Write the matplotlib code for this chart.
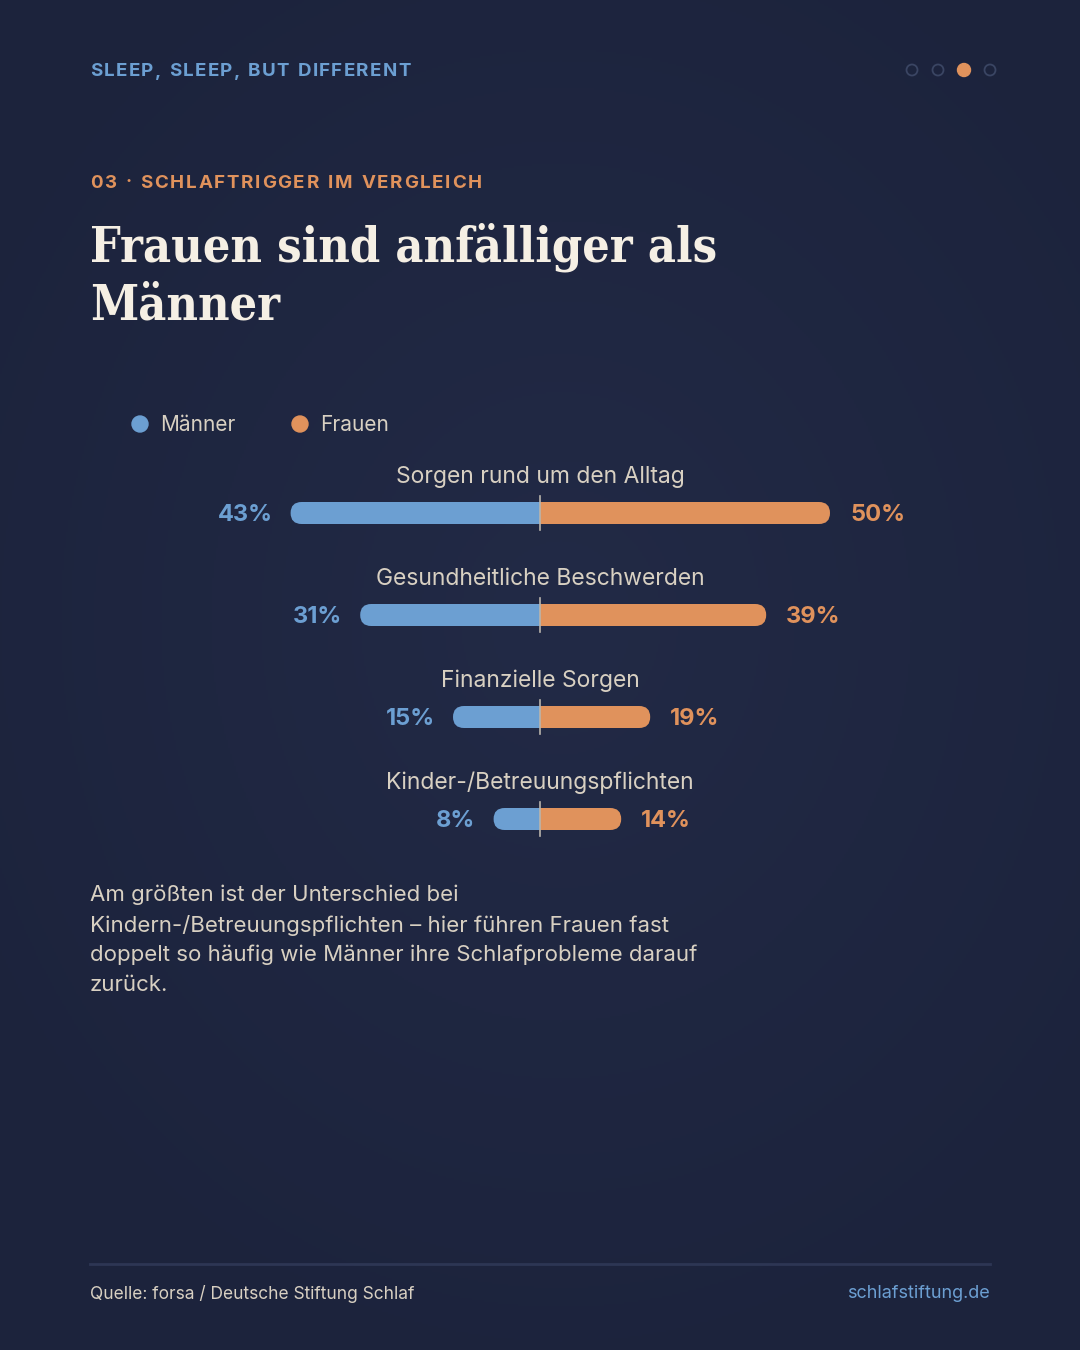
import numpy as np
import matplotlib
matplotlib.use("Agg")
import matplotlib.pyplot as plt
from matplotlib.patches import FancyBboxPatch, Circle

# --- data ---
categories = ["Sorgen rund um den Alltag", "Gesundheitliche Beschwerden",
              "Finanzielle Sorgen", "Kinder-/Betreuungspflichten"]
maenner = [43, 31, 15, 8]
frauen = [50, 39, 19, 14]
series_names = ["Männer", "Frauen"]

kicker = "SLEEP, SLEEP, BUT DIFFERENT"
section = "03 · SCHLAFTRIGGER IM VERGLEICH"
title_lines = ["Frauen sind anfälliger als", "Männer"]
body_lines = ["Am größten ist der Unterschied bei",
              "Kindern-/Betreuungspflichten – hier führen Frauen fast",
              "doppelt so häufig wie Männer ihre Schlafprobleme darauf",
              "zurück."]
source = "Quelle: forsa / Deutsche Stiftung Schlaf"
site = "schlafstiftung.de"

# --- style ---
BLUE = "#6c9fd2"
ORANGE = "#e0925c"
CREAM = "#f5efe4"
BEIGE = "#d8d0c2"
SANS = ["Inter", "DejaVu Sans"]
SERIF = ["DejaVu Serif"]

W, H = 1080, 1350
fig = plt.figure(figsize=(W / 100, H / 100), dpi=100)

# background with a faint radial glow
bg = fig.add_axes([0, 0, 1, 1])
bg.set_xlim(0, W)
bg.set_ylim(H, 0)
bg.axis("off")
yy, xx = np.mgrid[0:H:2, 0:W:2]
r = np.sqrt(((xx - 560) / 700) ** 2 + ((yy - 620) / 800) ** 2)
glow = np.clip(1 - r, 0, 1)
c0 = np.array([0x1c, 0x23, 0x3c]) / 255
c1 = np.array([0x22, 0x2a, 0x46]) / 255
img = c0 + (c1 - c0) * glow[..., None]
bg.imshow(img, extent=(0, W, H, 0), aspect="auto", zorder=0)

renderer = fig.canvas.get_renderer()


def spaced_text(ax, x, y, s, spacing, **kw):
    """draw text char by char with extra letter spacing (px)"""
    for ch in s:
        t = ax.text(x, y, ch, **kw)
        w = t.get_window_extent(renderer).width
        if ch == " ":
            w = t.get_fontsize() * 100 / 72 * 0.3
        x += w + spacing


spaced_text(bg, 90, 71, kicker, 1.3, color=BLUE, fontsize=13.5,
            fontweight="bold", family=SANS, va="center", ha="left")
spaced_text(bg, 90, 183, section, 1.7, color=ORANGE, fontsize=13.5,
            fontweight="bold", family=SANS, va="center", ha="left")

# page dots
for i in range(4):
    cx = 912 + i * 26
    if i == 2:
        bg.add_patch(Circle((cx, 70), 6.5, color=ORANGE, zorder=3))
    else:
        bg.add_patch(Circle((cx, 70), 5.5, fill=False, ec="#3a4563", lw=1.3, zorder=3))

# title, sized so the first line spans the same width as the reference
t = bg.text(90, 262, title_lines[0], color=CREAM, fontsize=38, fontweight="bold",
            family=SERIF, fontstretch="condensed", va="baseline", ha="left")
tw = t.get_window_extent(renderer).width
t.set_fontsize(38 * 628 / tw)
bg.text(90, 319, title_lines[1], color=CREAM, fontsize=t.get_fontsize(), fontweight="bold",
        family=SERIF, fontstretch="condensed", va="baseline", ha="left")

# legend
for i, (name, col) in enumerate(zip(series_names, [BLUE, ORANGE])):
    lx = 140 + i * 160
    bg.add_patch(Circle((lx, 424), 8, color=col, zorder=3))
    bg.text(lx + 20, 425, name, color=BEIGE, fontsize=15, family=SANS,
            va="center", ha="left")

# body text
for i, line in enumerate(body_lines):
    bg.text(90, 895 + i * 30, line, color=BEIGE, fontsize=16, family=SANS,
            va="center", ha="left")

# footer
bg.plot([90, 990], [1264, 1264], color="#2d3654", lw=2)
bg.text(90, 1294, source, color=BEIGE, fontsize=12.5, family=SANS, va="center", ha="left")
bg.text(990, 1294, site, color=BLUE, fontsize=13, family=SANS, va="center", ha="right")

# --- diverging bar chart ---
px_per_pct = 5.8
row_px = 102
ax_l, ax_w = 90, 900
ax_top, ax_h = 440, 420
ax = fig.add_axes([ax_l / W, 1 - (ax_top + ax_h) / H, ax_w / W, ax_h / H])
ax.patch.set_alpha(0)
ax.axis("off")
half = ax_w / 2 / px_per_pct
ax.set_xlim(-half, half)
row0 = (513 - ax_top) / row_px
ax.set_ylim(ax_h / row_px - row0, -row0)

bar_h = 22 / row_px
rad = 11 / px_per_pct
aspect = px_per_pct / row_px

for i, (cat, m, f) in enumerate(zip(categories, maenner, frauen)):
    for val, col, sign in [(m, BLUE, -1), (f, ORANGE, 1)]:
        x0 = min(0, sign * val)
        ax.add_patch(FancyBboxPatch((x0, i - bar_h / 2), val, bar_h,
                                    boxstyle=f"round,pad=0,rounding_size={rad}",
                                    mutation_aspect=aspect, fc=col, ec="none", zorder=2))
        # square-off the inner end
        ax.barh(i, sign * val / 2, height=bar_h, left=0, color=col, zorder=2)
    ax.plot([0, 0], [i - 17 / row_px, i + 17 / row_px], color="#b9b4ac", lw=1.2, zorder=3)
    ax.annotate(cat, (0, i), xytext=(0, 36 * 0.72), textcoords="offset points",
                ha="center", va="center", color=BEIGE, fontsize=16.5, family=SANS)
    ax.annotate(f"{m}%", (-m, i), xytext=(-18 * 0.72, -1.5), textcoords="offset points",
                ha="right", va="center", color=BLUE, fontsize=17, fontweight="bold", family=SANS)
    ax.annotate(f"{f}%", (f, i), xytext=(20 * 0.72, -1.5), textcoords="offset points",
                ha="left", va="center", color=ORANGE, fontsize=17, fontweight="bold", family=SANS)

fig.savefig("out.png", dpi=100)
